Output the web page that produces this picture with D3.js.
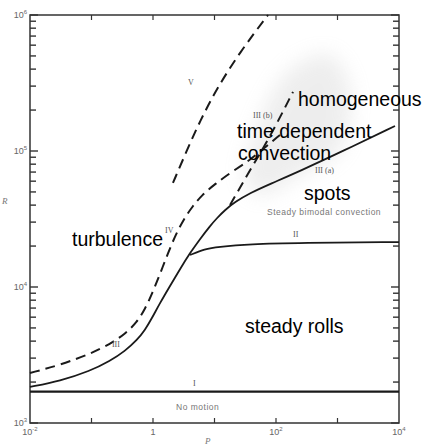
<!DOCTYPE html>
<html>
<head>
<meta charset="utf-8">
<script src="https://cdn.jsdelivr.net/npm/d3@7"></script>
<style>
  body { margin: 0; background: #fff; }
  svg { display: block; }
</style>
</head>
<body>
<div id="chart"></div>
<script>
// regime boundaries, [P, R] pairs
const lineI = [[0.01, 1700], [1e4, 1700]];
const curveIII = [[0.01, 1840], [0.0308, 2036], [0.0946, 2412], [0.2, 2857], [0.351, 3383],
  [0.55, 4077], [0.741, 4828], [0.963, 5917], [1.30, 7628], [1.89, 10170], [2.75, 13560],
  [4.0, 17780], [5.81, 22540], [8.45, 28090], [11.0, 32170], [14.8, 36830], [21.5, 42170],
  [37.8, 49110], [79.9, 57220], [246, 71290], [1229, 100000], [8610, 152700]];
const curveIV = [[0.01, 2332], [0.0308, 2670], [0.0946, 3217], [0.2, 3809], [0.351, 4511],
  [0.55, 5529], [0.741, 6889], [0.963, 8881], [1.30, 12460], [1.754, 17780], [2.366, 24530],
  [3.19, 31620], [4.31, 38740], [6.27, 47490], [10.2, 57220], [20.0, 71290], [37.8, 85850],
  [61.5, 103400], [116, 131100]];
const curveV = [[2.11, 58200], [3.57, 101600], [5.81, 166000], [11.0, 290000], [26.0, 535000], [74.1, 1e6]];
const curveIIIb = [[17.9, 40100], [42.3, 78900], [79.8, 126800], [189, 272000]];
const curveII = [[4.0, 17200], [7.0, 19000], [11.0, 19700], [37.8, 20700], [245, 21100], [1e4, 21400]];

const regimeNames = ["turbulence", "time dependent", "convection", "homogeneous", "spots", "steady rolls"];
const regimeAt = [[0.0482, 20000], [23.2, 124600], [24.1, 85900], [228, 214000], [285, 43600], [31.3, 4590]];

const curveNames = ["V", "III (b)", "III (a)", "II", "IV", "III", "I"];
const curveNameAt = [[3.71, 305000], [42.3, 175000], [431, 68900], [189, 23300], [1.57, 24900], [0.215, 3620], [4.47, 1870]];

const noteNames = ["Steady bimodal convection", "No motion"];
const noteAt = [[71.4, 33800], [2.37, 1246]];

const xTickExp = [-2, 0, 2, 4];
const yTickExp = [3, 4, 5, 6];

// faint stippled area of the original plate
const shade = [[31.3, 61200], [55, 169000], [169, 394000], [755, 508000], [1600, 281000],
  [1100, 101600], [245, 66700], [55, 47400]];

const outerWidth = 429, outerHeight = 446;
const margin = {top: 15, right: 30, bottom: 23, left: 30};

const svg = d3.select("#chart").append("svg")
  .attr("width", outerWidth)
  .attr("height", outerHeight);

const x = d3.scaleLog().domain([1e-2, 1e4]).range([margin.left, outerWidth - margin.right]);
const y = d3.scaleLog().domain([1e3, 1e6]).range([outerHeight - margin.bottom, margin.top]);

const defs = svg.append("defs");
defs.append("filter").attr("id", "blur")
  .attr("x", "-50%").attr("y", "-50%").attr("width", "200%").attr("height", "200%")
  .append("feGaussianBlur").attr("stdDeviation", 10);

svg.append("path")
  .datum(shade)
  .attr("d", d3.line().x(d => x(d[0])).y(d => y(d[1])).curve(d3.curveCatmullRomClosed))
  .attr("fill", "#bbb")
  .attr("opacity", 0.25)
  .attr("filter", "url(#blur)");

// frame
const [x0, x1] = x.range(), [y0, y1] = y.range();
svg.append("rect")
  .attr("x", x0).attr("y", y1)
  .attr("width", x1 - x0).attr("height", y0 - y1)
  .attr("fill", "none").attr("stroke", "#333").attr("stroke-width", 1.5);

// y ticks, both sides, inward
const yTicks = y.ticks(30);
const yg = svg.append("g").attr("stroke", "#333").attr("stroke-width", 1.4);
yTicks.forEach(t => {
  const major = Math.abs(Math.log10(t) - Math.round(Math.log10(t))) < 1e-9;
  const len = major ? 8 : 6;
  yg.append("line").attr("x1", x0).attr("x2", x0 + len).attr("y1", y(t)).attr("y2", y(t));
  yg.append("line").attr("x1", x1).attr("x2", x1 - len).attr("y1", y(t)).attr("y2", y(t));
});

// x ticks at each decade, top and bottom
const xg = svg.append("g").attr("stroke", "#333").attr("stroke-width", 1.2);
d3.range(-1, 4).forEach(e => {
  const px = x(Math.pow(10, e));
  xg.append("line").attr("x1", px).attr("x2", px).attr("y1", y0).attr("y2", y0 - 5);
  xg.append("line").attr("x1", px).attr("x2", px).attr("y1", y1).attr("y2", y1 + 5);
});

function powLabel(sel, exp) {
  if (exp === 0) { sel.text("1"); return; }
  sel.append("tspan").text("10");
  sel.append("tspan").attr("dy", -4).attr("font-size", 6).text(exp);
}

yTickExp.forEach(e => {
  svg.append("text")
    .attr("x", x0 - 3).attr("y", y(Math.pow(10, e)) + 3)
    .attr("text-anchor", "end")
    .attr("font-family", "Liberation Sans, Arial, sans-serif")
    .attr("font-size", 9).attr("fill", "#666")
    .call(powLabel, e);
});
xTickExp.forEach(e => {
  svg.append("text")
    .attr("x", x(Math.pow(10, e))).attr("y", y0 + 12)
    .attr("text-anchor", "middle")
    .attr("font-family", "Liberation Sans, Arial, sans-serif")
    .attr("font-size", 9).attr("fill", "#666")
    .call(powLabel, e);
});

svg.append("text").attr("x", 205).attr("y", 444)
  .attr("font-family", "Liberation Serif, serif").attr("font-style", "italic")
  .attr("font-size", 9).attr("fill", "#777").text("P");
svg.append("text").attr("x", 2).attr("y", 204)
  .attr("font-family", "Liberation Serif, serif").attr("font-style", "italic")
  .attr("font-size", 9).attr("fill", "#777").text("R");

// curves, smoothed with a B-spline through the read points
const line = d3.line()
  .x(d => x(d[0]))
  .y(d => y(d[1]))
  .curve(d3.curveBasis);

const curves = [
  {pts: lineI, dash: null, w: 2.2},
  {pts: curveIII, dash: null, w: 1.8},
  {pts: curveII, dash: null, w: 1.8},
  {pts: curveIV, dash: "10,6", w: 2},
  {pts: curveV, dash: "10,6", w: 2},
  {pts: curveIIIb, dash: "10,6", w: 2}
];

svg.append("g").selectAll("path")
  .data(curves)
  .join("path")
  .attr("d", d => line(d.pts))
  .attr("fill", "none")
  .attr("stroke", "#1a1a1a")
  .attr("stroke-width", d => d.w)
  .attr("stroke-dasharray", d => d.dash);

// roman numeral labels
svg.append("g").selectAll("text")
  .data(curveNames)
  .join("text")
  .attr("x", (d, i) => x(curveNameAt[i][0]))
  .attr("y", (d, i) => y(curveNameAt[i][1]))
  .attr("font-family", "Liberation Serif, serif")
  .attr("font-size", 8)
  .attr("fill", "#555")
  .text(d => d);

// original small notes
svg.append("g").selectAll("text")
  .data(noteNames)
  .join("text")
  .attr("x", (d, i) => x(noteAt[i][0]))
  .attr("y", (d, i) => y(noteAt[i][1]))
  .attr("font-family", "Liberation Sans, Arial, sans-serif")
  .attr("font-size", 8.5)
  .attr("letter-spacing", 0.5)
  .attr("fill", "#777")
  .text(d => d);

// overlaid regime names
svg.append("g").selectAll("text")
  .data(regimeNames)
  .join("text")
  .attr("x", (d, i) => x(regimeAt[i][0]))
  .attr("y", (d, i) => y(regimeAt[i][1]))
  .attr("font-family", "Liberation Sans, Arial, sans-serif")
  .attr("font-size", 19.5)
  .attr("fill", "#000")
  .text(d => d);
</script>
</body>
</html>
